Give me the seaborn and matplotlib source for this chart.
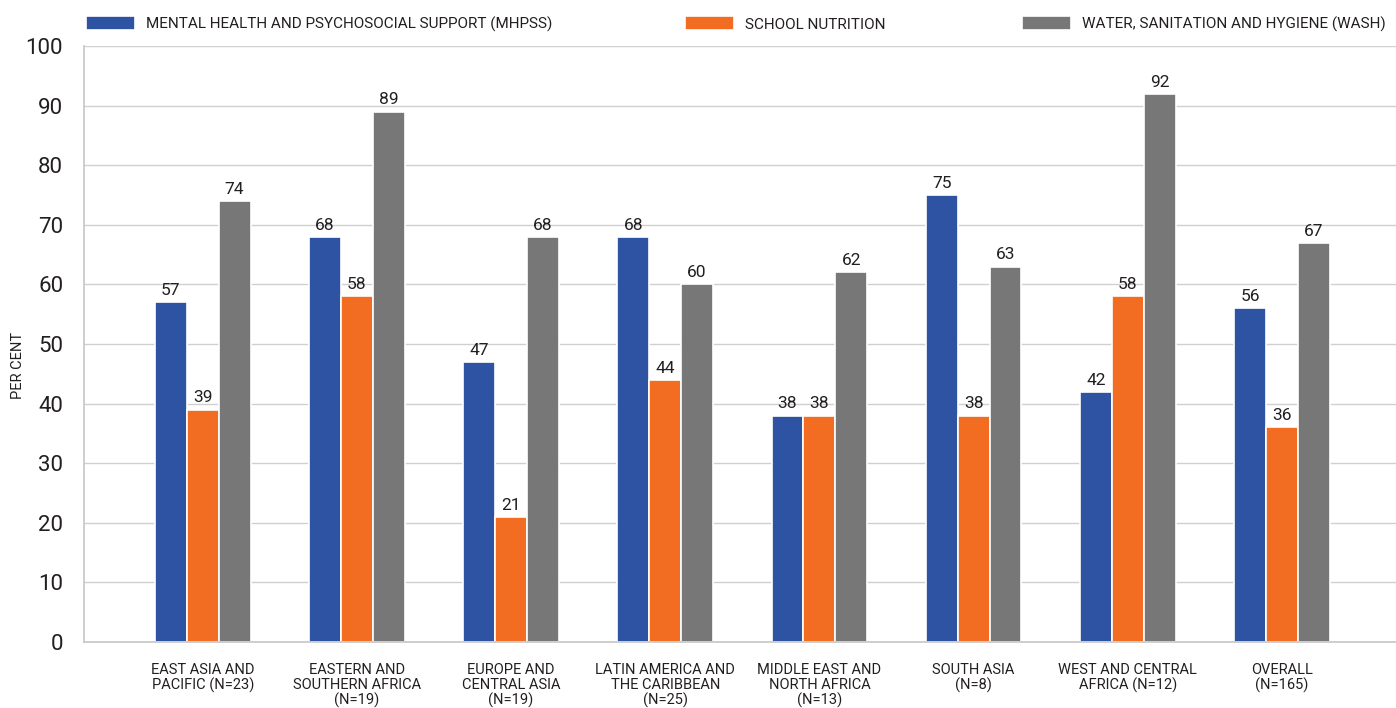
import matplotlib
matplotlib.use("Agg")
import matplotlib.pyplot as plt
import seaborn as sns
import pandas as pd
import matplotlib.patheffects as pe

categories = ["EAST ASIA AND\nPACIFIC (N=23)", "EASTERN AND\nSOUTHERN AFRICA\n(N=19)",
              "EUROPE AND\nCENTRAL ASIA\n(N=19)", "LATIN AMERICA AND\nTHE CARIBBEAN\n(N=25)",
              "MIDDLE EAST AND\nNORTH AFRICA\n(N=13)", "SOUTH ASIA\n(N=8)",
              "WEST AND CENTRAL\nAFRICA (N=12)", "OVERALL\n(N=165)"]
series_names = ["MENTAL HEALTH AND PSYCHOSOCIAL SUPPORT (MHPSS)", "SCHOOL NUTRITION",
                "WATER, SANITATION AND HYGIENE (WASH)"]
mhpss = [57, 68, 47, 68, 38, 75, 42, 56]
nutrition = [39, 58, 21, 44, 38, 38, 58, 36]
wash = [74, 89, 68, 60, 62, 63, 92, 67]
yticks = [0, 10, 20, 30, 40, 50, 60, 70, 80, 90, 100]
colors = ["#2E53A3", "#F26C22", "#777777"]

rows = []
for name, vals in zip(series_names, [mhpss, nutrition, wash]):
    for c, v in zip(categories, vals):
        rows.append({"region": c, "series": name, "value": v})
df = pd.DataFrame(rows)

sns.set_theme(style="white")
plt.rcParams["font.family"] = ["Roboto", "DejaVu Sans"]
txt = "#231F20"

W, H = 1396, 708
fig = plt.figure(figsize=(W / 100, H / 100), dpi=100)
ax = fig.add_axes([84 / W, 66 / H, 1 - 84 / W, (642 - 46) / H])

sns.barplot(data=df, x="region", y="value", hue="series", hue_order=series_names,
            order=categories, palette=colors, width=0.62, edgecolor="white",
            linewidth=1.2, saturation=1, errorbar=None, ax=ax, legend=True)

for p in ax.patches:
    p.set_path_effects([pe.SimplePatchShadow(offset=(0, 0), shadow_rgbFace="#000000", alpha=0.12),
                        pe.Normal()])

for cont in ax.containers:
    ax.bar_label(cont, fmt="%d", padding=3, fontsize=12.5, color=txt)

ax.set_ylim(0, 100)
ax.set_xlim(-0.77, 7.74)
ax.set_yticks(yticks)
ax.set_yticklabels([str(t) for t in yticks], fontsize=16, color=txt)
ax.tick_params(axis="y", length=0, pad=15)
ax.tick_params(axis="x", length=0, pad=15)
ax.set_xticks(range(len(categories)))
ax.set_xticklabels(categories, fontsize=10.5, color=txt, linespacing=1.1, va="top")
ax.yaxis.grid(True, color="#D0D0D0", linewidth=1)
ax.set_axisbelow(True)
for s in ["top", "right"]:
    ax.spines[s].set_visible(False)
ax.spines["left"].set_color("#C8C8C8")
ax.spines["bottom"].set_color("#C8C8C8")
ax.set_xlabel("")
ax.set_ylabel("")
fig.text(18 / W, 1 - 365 / H, "PER CENT", rotation=90, fontsize=10.5, color=txt,
         ha="center", va="center")

handles, labels = ax.get_legend_handles_labels()
ax.get_legend().remove()
xpos = [86, 685, 1022]
for h, l, x in zip(handles, labels, xpos):
    leg = fig.legend([h], [l], loc="center left", bbox_to_anchor=(x / W, 1 - 24 / H),
                     frameon=False, fontsize=11, handlelength=3.2, handleheight=1.0,
                     handletextpad=0.7, borderpad=0, borderaxespad=0)
    for t in leg.get_texts():
        t.set_color(txt)

fig.savefig("out.png", dpi=100)
